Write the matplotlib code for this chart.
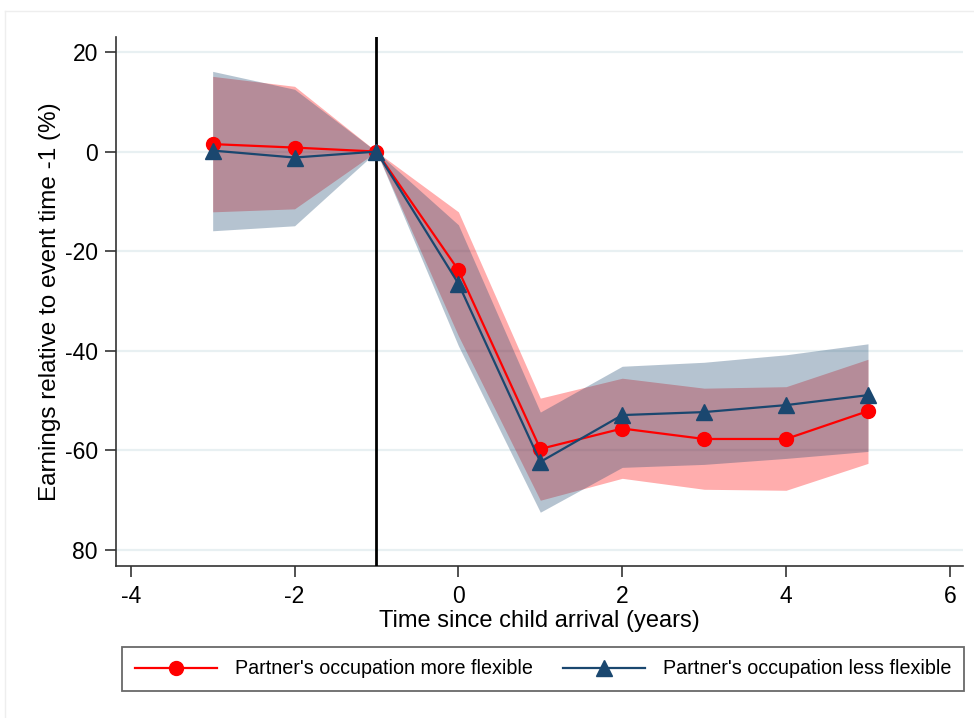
import matplotlib.pyplot as plt
from matplotlib.lines import Line2D
import numpy as np

plt.rcParams['font.family'] = ['Liberation Sans', 'DejaVu Sans']

# event time (years since child arrival)
event_time = [-3, -2, -1, 0, 1, 2, 3, 4, 5]

# partner's occupation more flexible
more_flex = [1.5, 0.8, 0.0, -23.8, -59.7, -55.6, -57.7, -57.7, -52.1]
more_flex_hi = [15.1, 13.1, 0.0, -12.1, -49.5, -45.5, -47.5, -47.2, -41.7]
more_flex_lo = [-12.1, -11.5, 0.0, -37.0, -70.0, -65.6, -67.8, -68.0, -62.6]

# partner's occupation less flexible
less_flex = [0.2, -1.2, 0.0, -26.5, -62.3, -52.9, -52.3, -50.9, -48.9]
less_flex_hi = [16.1, 12.5, 0.0, -14.7, -52.3, -43.1, -42.3, -40.8, -38.6]
less_flex_lo = [-15.9, -14.9, 0.0, -39.0, -72.4, -63.4, -62.8, -61.6, -60.2]

yticks = [-80, -60, -40, -20, 0, 20]
ytick_labels = ['80', '-60', '-40', '-20', '0', '20']
xticks = [-4, -2, 0, 2, 4, 6]

red = '#ff0000'
navy = '#1a476f'

fig = plt.figure(figsize=(9.74, 7.18), dpi=100)
ax = fig.add_axes([116 / 974, 1 - 566 / 718, (963 - 116) / 974, (566 - 37) / 718])

# faint outer border like the stata graph region
fig.add_artist(Line2D([5 / 974, 1], [1 - 11 / 718, 1 - 11 / 718], color='#eeeeee', lw=1))
fig.add_artist(Line2D([5 / 974, 5 / 974], [0, 1 - 11 / 718], color='#eeeeee', lw=1))

for yv in yticks:
    ax.axhline(yv, color='#e8f0f2', lw=1.6, zorder=0)

ax.fill_between(event_time, more_flex_lo, more_flex_hi, color=red, alpha=0.32, lw=0, zorder=1)
ax.fill_between(event_time, less_flex_lo, less_flex_hi, color=navy, alpha=0.32, lw=0, zorder=2)

ax.axvline(-1, color='black', lw=2, zorder=3)

ax.plot(event_time, more_flex, color=red, lw=1.6, marker='o', ms=10, zorder=4,
        label="Partner's occupation more flexible")
ax.plot(event_time, less_flex, color=navy, lw=1.6, marker='^', ms=11, zorder=5,
        label="Partner's occupation less flexible")

ax.set_xlim(-4.18, 6.16)
ax.set_ylim(-83.2, 23.0)
ax.set_xticks(xticks)
ax.set_xticklabels([str(v) for v in xticks])
ax.set_yticks(yticks)
ax.set_yticklabels(ytick_labels)

for s in ['top', 'right']:
    ax.spines[s].set_visible(False)
for s in ['left', 'bottom']:
    ax.spines[s].set_color('#333333')
    ax.spines[s].set_linewidth(1.2)
ax.tick_params(direction='out', length=8, width=1.2, color='#333333', labelsize=16.5)
ax.tick_params(axis='x', pad=6)
ax.tick_params(axis='y', pad=5)

ax.set_xlabel('Time since child arrival (years)', fontsize=17, labelpad=1)
ax.set_ylabel('Earnings relative to event time -1 (%)', fontsize=17.5, labelpad=3)

handles, labels = ax.get_legend_handles_labels()
leg = fig.legend(handles, labels, loc='center', ncol=2,
                 bbox_to_anchor=(543 / 974, 1 - 669 / 718),
                 fontsize=14.2, frameon=True, fancybox=False, edgecolor='#444444',
                 handlelength=4.2, handletextpad=0.9, columnspacing=1.5,
                 borderaxespad=0, borderpad=0.65)
leg.get_frame().set_linewidth(1.3)

fig.savefig('out.png', dpi=100)
